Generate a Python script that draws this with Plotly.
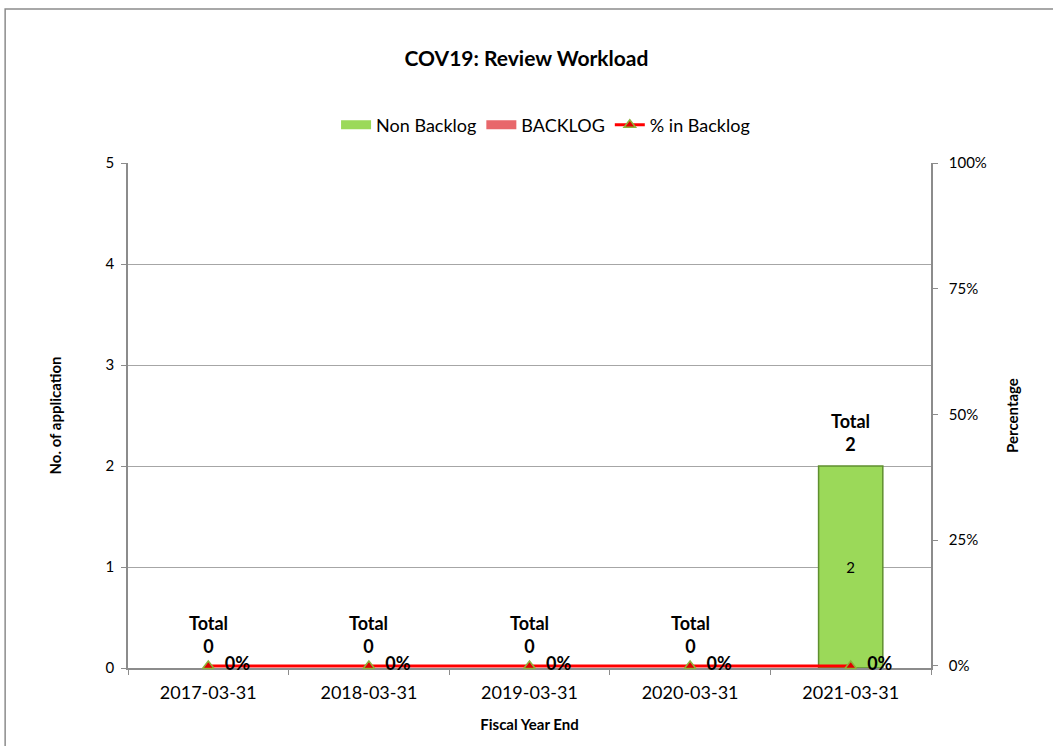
import plotly.graph_objects as go

# data
fiscal_years = ['2017-03-31', '2018-03-31', '2019-03-31', '2020-03-31', '2021-03-31']
non_backlog = [0, 0, 0, 0, 2]
backlog = [0, 0, 0, 0, 0]
pct_backlog = [0, 0, 0, 0, 0]
totals = [n + b for n, b in zip(non_backlog, backlog)]

FONT = 'Lato, Open Sans, sans-serif'
GREEN, GREEN_EDGE = '#9BD959', '#5F8F2F'
RED, RED_EDGE = '#E8676B', '#A03A3D'

fig = go.Figure()

fig.add_trace(go.Bar(
    x=fiscal_years, y=non_backlog, name='Non Backlog', showlegend=False,
    marker=dict(color=GREEN, line=dict(color=GREEN_EDGE, width=[1.5 if v else 0 for v in non_backlog])),
    text=[str(v) if v else '' for v in non_backlog], textposition='inside',
    insidetextanchor='middle', textfont=dict(size=15, color='black'),
    width=0.4, offsetgroup='a'
))
fig.add_trace(go.Bar(
    x=fiscal_years, y=backlog, name='BACKLOG', showlegend=False,
    marker=dict(color=RED, line=dict(color=RED_EDGE, width=[1.5 if v else 0 for v in backlog])),
    width=0.4, offsetgroup='a', base=non_backlog
))

# wide swatches for the bar legend entries
for name, col in [('Non Backlog', GREEN), ('BACKLOG', RED)]:
    fig.add_trace(go.Scatter(x=[None], y=[None], mode='lines', name=name,
                             line=dict(color=col, width=9)))

fig.add_trace(go.Scatter(
    x=fiscal_years, y=pct_backlog, name='% in Backlog', yaxis='y2',
    mode='lines+markers+text',
    line=dict(color='#FF0000', width=3),
    marker=dict(symbol='triangle-up', size=10, color='#E00000', line=dict(color='#8DB33A', width=1.5)),
    text=[f'  <b>{v:.0%}</b>' for v in pct_backlog], textposition='middle right',
    textfont=dict(size=18, color='black', family=FONT), cliponaxis=False
))

# "Total" labels above each stack
for fy, t in zip(fiscal_years, totals):
    fig.add_annotation(x=fy, y=t, text=f'<b>Total<br>{t}</b>', showarrow=False,
                       yanchor='bottom', yshift=9, font=dict(size=18, color='black', family=FONT))

# outer chart frame
fig.add_shape(type='rect', xref='paper', yref='paper', x0=-0.153, x1=1.3, y0=-0.3, y1=1.305,
              line=dict(color='#8C8C8C', width=1.5), layer='below')

fig.update_layout(
    width=1053, height=746,
    margin=dict(l=128, r=122, t=163, b=78),
    paper_bgcolor='white', plot_bgcolor='white',
    font=dict(family=FONT, size=14, color='black'),
    title=dict(text='<b>COV19: Review Workload</b>', x=0.5, xanchor='center', y=0.922, yanchor='middle',
               font=dict(size=21)),
    barmode='overlay', bargap=0.6,
    showlegend=True,
    legend=dict(orientation='h', x=0.52, xanchor='center', y=1.075, yanchor='middle',
                font=dict(size=18), itemwidth=30, tracegroupgap=0),
    xaxis=dict(type='category', automargin=False, layer='below traces',
               title=dict(text='<b>Fiscal Year End</b>', font=dict(size=15), standoff=17),
               showline=True, linecolor='#8C8C8C', linewidth=1.5, ticks='outside', ticklen=5,
               tickcolor='#8C8C8C', tickson='boundaries', tickfont=dict(size=18), showgrid=False,
               ticklabelstandoff=8),
    yaxis=dict(automargin=False, title=dict(text='<b>No. of application</b>', font=dict(size=15), standoff=40),
               range=[0, 5], dtick=1, showline=True, linecolor='#8C8C8C', linewidth=1.5,
               ticks='outside', ticklen=5, tickcolor='#8C8C8C', gridcolor='#A6A6A6', gridwidth=1,
               tickfont=dict(size=15), zeroline=False, ticklabelstandoff=4, layer='below traces'),
    # tiny negative floor keeps the 0% line from being half clipped by the plot edge
    yaxis2=dict(automargin=False, title=dict(text='<b>Percentage</b>', font=dict(size=15), standoff=22),
                overlaying='y', side='right', range=[-0.004, 1], tick0=0, dtick=0.25, tickformat='.0%',
                showline=True, linecolor='#8C8C8C', linewidth=1.5, ticks='outside', ticklen=5,
                tickcolor='#8C8C8C', showgrid=False, tickfont=dict(size=15), zeroline=False,
                ticklabelstandoff=8, layer='below traces'),
)

# drop the default page margin so the figure sits at the window's corner
fig.write_html('out.html', config={'displayModeBar': False},
               post_script="document.body.style.margin='0';")
